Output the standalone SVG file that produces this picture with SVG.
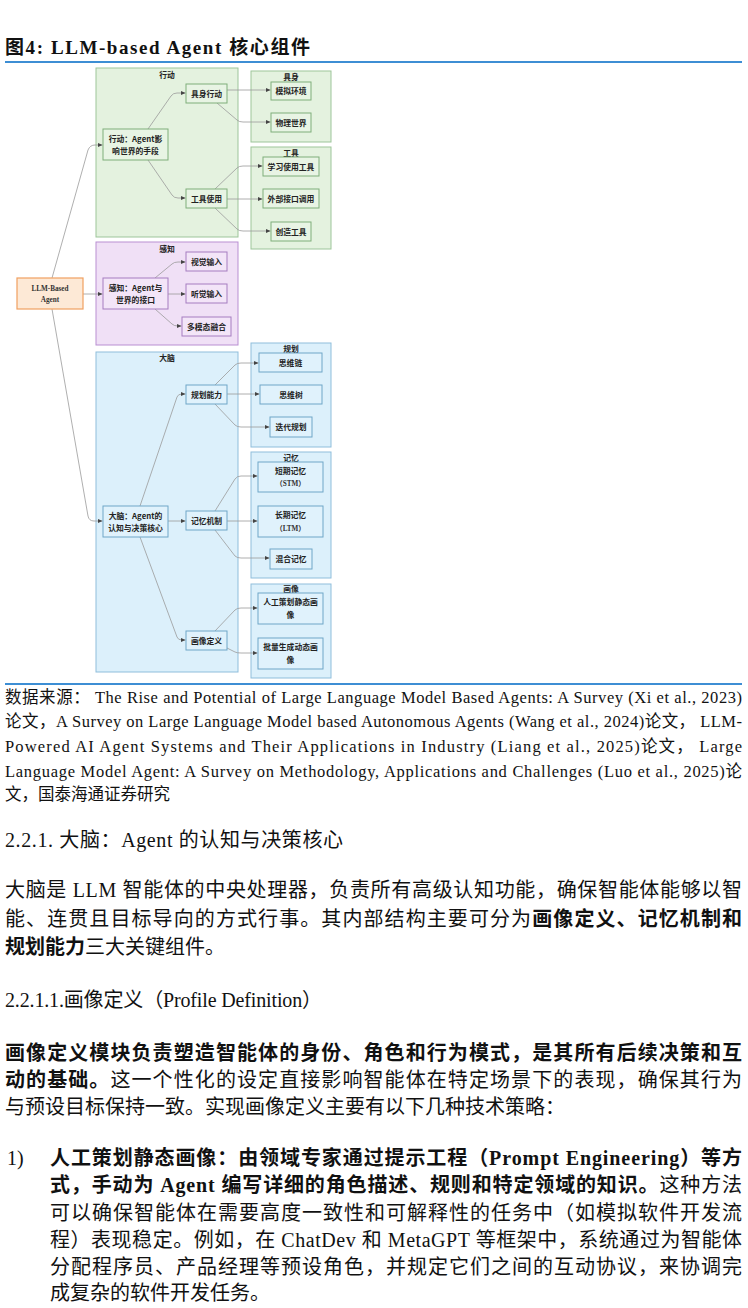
<svg xmlns="http://www.w3.org/2000/svg" width="748" height="1308" viewBox="0 0 748 1308">
<style>
.bg{fill:#ffffff}
.rule{stroke:#3d8ed4;stroke-width:2}
.title{font-family:"Liberation Serif","Noto Sans CJK SC",serif;font-weight:bold;font-size:19px;fill:#111}
.body{font-family:"Liberation Serif","Noto Sans CJK SC",serif;font-size:20px;fill:#111}
.foot{font-family:"Liberation Serif","Noto Sans CJK SC",serif;font-size:16.5px;fill:#111}
.b{font-weight:bold}
.gG{fill:#e4f2df;stroke:#9dc59a;stroke-width:1}
.nG{fill:#e8f4e4;stroke:#7fae7b;stroke-width:1}
.gP{fill:#f0e0f6;stroke:#b98fd2;stroke-width:1}
.nP{fill:#f3e5f8;stroke:#a57dc0;stroke-width:1}
.gB{fill:#dcf0fb;stroke:#8fbedb;stroke-width:1}
.nB{fill:#e0f2fc;stroke:#6fa6c8;stroke-width:1}
.nO{fill:#fde9d6;stroke:#f0a060;stroke-width:1.2}
.t{font-family:"Noto Sans CJK SC","Liberation Sans",sans-serif;font-weight:bold;font-size:7.8px;fill:#222;text-anchor:middle}
.ts{font-family:"Liberation Serif","Noto Sans CJK SC",serif;font-weight:bold;font-size:7.2px;fill:#333;text-anchor:middle}
.c{fill:none;stroke:#9a9a9a;stroke-width:0.8;marker-end:url(#arr)}
</style>
<defs>
<marker id="arr" markerUnits="userSpaceOnUse" markerWidth="5" markerHeight="5" refX="4.5" refY="2.5" orient="auto">
<path d="M0,0.5 L4.5,2.5 L0,4.5 z" fill="#444"/>
</marker>
</defs>
<rect class="bg" x="0" y="0" width="748" height="1308"/>

<text class="title" x="5" y="54" textLength="305" lengthAdjust="spacing">图4:  LLM-based Agent 核心组件</text>
<line class="rule" x1="5" y1="62" x2="742" y2="62"/>

<g id="grp-action">
<rect class="gG" x="96" y="68" width="142" height="169"/>
<text class="t" x="167" y="78">行动</text>
</g>
<g id="grp-embodied">
<rect class="gG" x="251" y="71" width="80" height="71"/>
<text class="t" x="291" y="80">具身</text>
</g>
<g id="grp-tools">
<rect class="gG" x="251" y="147" width="80" height="102"/>
<text class="t" x="291" y="156">工具</text>
</g>
<g id="grp-perception">
<rect class="gP" x="96" y="242" width="142" height="103"/>
<text class="t" x="167" y="252">感知</text>
</g>
<g id="grp-brain">
<rect class="gB" x="96" y="352" width="142" height="320"/>
<text class="t" x="167" y="361">大脑</text>
</g>
<g id="grp-planning">
<rect class="gB" x="251" y="343" width="80" height="104"/>
<text class="t" x="291" y="352">规划</text>
</g>
<g id="grp-memory">
<rect class="gB" x="251" y="452" width="80" height="126"/>
<text class="t" x="291" y="461">记忆</text>
</g>
<g id="grp-profile">
<rect class="gB" x="251" y="584" width="80" height="94"/>
<text class="t" x="291" y="592">画像</text>
</g>

<g id="connectors">
<path class="c" d="M52,278 L88,150 Q90,145 95,145 L102.5,145"/>
<path class="c" d="M83,294 L102.5,294"/>
<path class="c" d="M52,309 L88,516 Q89,521 94,521 L102.5,521"/>
<path class="c" d="M148,129 L171,96 Q173,93 177,93 L185.5,93"/>
<path class="c" d="M148,160 L172,195 Q174,198 178,198 L185.5,198"/>
<path class="c" d="M227,90 L270.5,90"/>
<path class="c" d="M217,103 L237,120 Q239,122 243,122 L270.5,122"/>
<path class="c" d="M215,189 L237,168 Q239,166 243,166 L262.5,166"/>
<path class="c" d="M227,199 L262.5,199"/>
<path class="c" d="M215,208 L237,229 Q239,231 243,231 L270.5,231"/>
<path class="c" d="M155,278 L172,264 Q174,262 178,262 L185.5,262"/>
<path class="c" d="M168,294 L185.5,294"/>
<path class="c" d="M155,309 L172,324 Q174,326 178,326 L181.5,326"/>
<path class="c" d="M140,506 L177,397 Q178,394 182,394 L185.5,394"/>
<path class="c" d="M168,521 L185.5,521"/>
<path class="c" d="M140,537 L177,637 Q178,640 182,640 L185.5,640"/>
<path class="c" d="M215,385 L235,365 Q237,363 241,363 L258.5,363"/>
<path class="c" d="M227,394 L259.5,394"/>
<path class="c" d="M215,404 L235,425 Q237,427 241,427 L269.5,427"/>
<path class="c" d="M215,511 L235,479 Q237,476 241,476 L257.5,476"/>
<path class="c" d="M227,521 L257.5,521"/>
<path class="c" d="M215,530 L235,556 Q237,558 241,558 L269.5,558"/>
<path class="c" d="M215,631 L235,610 Q237,608 241,608 L257.5,608"/>
<path class="c" d="M227,648 L235,652 Q237,653 241,653 L257.5,653"/>
</g>

<g id="n-llm">
<rect class="nO" x="17" y="278" width="66" height="31"/>
<text class="ts" x="50" y="291">LLM-Based</text>
<text class="ts" x="50" y="302">Agent</text>
</g>
<g id="n-action">
<rect class="nG" x="103" y="129" width="65" height="31"/>
<text class="t" x="135.5" y="142">行动：Agent影</text>
<text class="t" x="135.5" y="154">响世界的手段</text>
</g>
<g id="n-embodied-act">
<rect class="nG" x="186" y="84" width="41" height="19"/>
<text class="t" x="206.5" y="96.5">具身行动</text>
</g>
<g id="n-tool-use">
<rect class="nG" x="186" y="189" width="41" height="19"/>
<text class="t" x="206.5" y="201.5">工具使用</text>
</g>
<g id="n-sim-env">
<rect class="nG" x="271" y="82" width="40" height="18"/>
<text class="t" x="291" y="94">模拟环境</text>
</g>
<g id="n-phys-world">
<rect class="nG" x="271" y="113" width="40" height="19"/>
<text class="t" x="291" y="125.5">物理世界</text>
</g>
<g id="n-learn-tool">
<rect class="nG" x="263" y="157" width="56" height="19"/>
<text class="t" x="291" y="169.5">学习使用工具</text>
</g>
<g id="n-ext-api">
<rect class="nG" x="263" y="189" width="56" height="19"/>
<text class="t" x="291" y="201.5">外部接口调用</text>
</g>
<g id="n-create-tool">
<rect class="nG" x="271" y="222" width="40" height="19"/>
<text class="t" x="291" y="234.5">创造工具</text>
</g>

<g id="n-perception">
<rect class="nP" x="103" y="278" width="65" height="31"/>
<text class="t" x="135.5" y="291">感知：Agent与</text>
<text class="t" x="135.5" y="303">世界的接口</text>
</g>
<g id="n-visual">
<rect class="nP" x="186" y="252" width="41" height="19"/>
<text class="t" x="206.5" y="264.5">视觉输入</text>
</g>
<g id="n-audio">
<rect class="nP" x="186" y="284" width="41" height="19"/>
<text class="t" x="206.5" y="296.5">听觉输入</text>
</g>
<g id="n-multimodal">
<rect class="nP" x="182" y="317" width="49" height="19"/>
<text class="t" x="206.5" y="329.5">多模态融合</text>
</g>

<g id="n-brain">
<rect class="nB" x="103" y="506" width="65" height="31"/>
<text class="t" x="135.5" y="519">大脑：Agent的</text>
<text class="t" x="135.5" y="531">认知与决策核心</text>
</g>
<g id="n-planning">
<rect class="nB" x="186" y="385" width="41" height="19"/>
<text class="t" x="206.5" y="397.5">规划能力</text>
</g>
<g id="n-memory">
<rect class="nB" x="186" y="511" width="41" height="19"/>
<text class="t" x="206.5" y="523.5">记忆机制</text>
</g>
<g id="n-profile">
<rect class="nB" x="186" y="631" width="41" height="19"/>
<text class="t" x="206.5" y="643.5">画像定义</text>
</g>
<g id="n-cot">
<rect class="nB" x="259" y="353" width="63" height="19"/>
<text class="t" x="290.5" y="365.5">思维链</text>
</g>
<g id="n-tot">
<rect class="nB" x="260" y="385" width="62" height="19"/>
<text class="t" x="291" y="397.5">思维树</text>
</g>
<g id="n-iter-plan">
<rect class="nB" x="270" y="417" width="42" height="20"/>
<text class="t" x="291" y="430">迭代规划</text>
</g>
<g id="n-stm">
<rect class="nB" x="258" y="462" width="65" height="30"/>
<text class="t" x="290.5" y="474">短期记忆</text>
<text class="ts" x="290.5" y="486">（STM）</text>
</g>
<g id="n-ltm">
<rect class="nB" x="258" y="506" width="65" height="31"/>
<text class="t" x="290.5" y="518">长期记忆</text>
<text class="ts" x="290.5" y="531">（LTM）</text>
</g>
<g id="n-hybrid">
<rect class="nB" x="270" y="549" width="42" height="20"/>
<text class="t" x="291" y="562">混合记忆</text>
</g>
<g id="n-static-profile">
<rect class="nB" x="258" y="593" width="65" height="31"/>
<text class="t" x="290.5" y="605">人工策划静态画</text>
<text class="t" x="290.5" y="618">像</text>
</g>
<g id="n-dynamic-profile">
<rect class="nB" x="258" y="638" width="65" height="31"/>
<text class="t" x="290.5" y="650">批量生成动态画</text>
<text class="t" x="290.5" y="663">像</text>
</g>

<line class="rule" x1="5" y1="684" x2="742" y2="684"/>

<text class="foot" x="5" y="703" textLength="737" lengthAdjust="spacing">数据来源：  The Rise and Potential of Large Language Model Based Agents: A Survey (Xi et al., 2023)</text>
<text class="foot" x="5" y="727" textLength="737" lengthAdjust="spacing">论文，A Survey on Large Language Model based Autonomous Agents (Wang et al., 2024)论文，  LLM-</text>
<text class="foot" x="5" y="752" textLength="737" lengthAdjust="spacing">Powered AI Agent Systems and Their Applications in Industry (Liang et al., 2025)论文，  Large</text>
<text class="foot" x="5" y="777" textLength="737" lengthAdjust="spacing">Language Model Agent: A Survey on Methodology, Applications and Challenges (Luo et al., 2025)论</text>
<text class="foot" x="5" y="800">文，国泰海通证券研究</text>

<text class="body" x="5" y="847" textLength="338" lengthAdjust="spacing">2.2.1. 大脑：Agent 的认知与决策核心</text>

<text class="body" x="5" y="897" textLength="737" lengthAdjust="spacing">大脑是 LLM 智能体的中央处理器，负责所有高级认知功能，确保智能体能够以智</text>
<text class="body" x="5" y="926" textLength="737" lengthAdjust="spacing">能、连贯且目标导向的方式行事。其内部结构主要可分为<tspan class="b">画像定义、记忆机制和</tspan></text>
<text class="body" x="5" y="954"><tspan class="b">规划能力</tspan>三大关键组件。</text>

<text class="body" x="5" y="1007" textLength="317" lengthAdjust="spacing">2.2.1.1.画像定义（Profile Definition）</text>

<text class="body b" x="5" y="1060" textLength="737" lengthAdjust="spacing">画像定义模块负责塑造智能体的身份、角色和行为模式，是其所有后续决策和互</text>
<text class="body" x="5" y="1087" textLength="737" lengthAdjust="spacing"><tspan class="b">动的基础。</tspan>这一个性化的设定直接影响智能体在特定场景下的表现，确保其行为</text>
<text class="body" x="5" y="1114">与预设目标保持一致。实现画像定义主要有以下几种技术策略：</text>

<text class="body" x="7" y="1165">1)</text>
<text class="body b" x="50" y="1165" textLength="692" lengthAdjust="spacing">人工策划静态画像：由领域专家通过提示工程（Prompt Engineering）等方</text>
<text class="body" x="50" y="1192" textLength="692" lengthAdjust="spacing"><tspan class="b">式，手动为 Agent 编写详细的角色描述、规则和特定领域的知识。</tspan>这种方法</text>
<text class="body" x="50" y="1220" textLength="692" lengthAdjust="spacing">可以确保智能体在需要高度一致性和可解释性的任务中（如模拟软件开发流</text>
<text class="body" x="50" y="1247" textLength="692" lengthAdjust="spacing">程）表现稳定。例如，在 ChatDev 和 MetaGPT 等框架中，系统通过为智能体</text>
<text class="body" x="50" y="1274" textLength="692" lengthAdjust="spacing">分配程序员、产品经理等预设角色，并规定它们之间的互动协议，来协调完</text>
<text class="body" x="50" y="1300">成复杂的软件开发任务。</text>
</svg>
